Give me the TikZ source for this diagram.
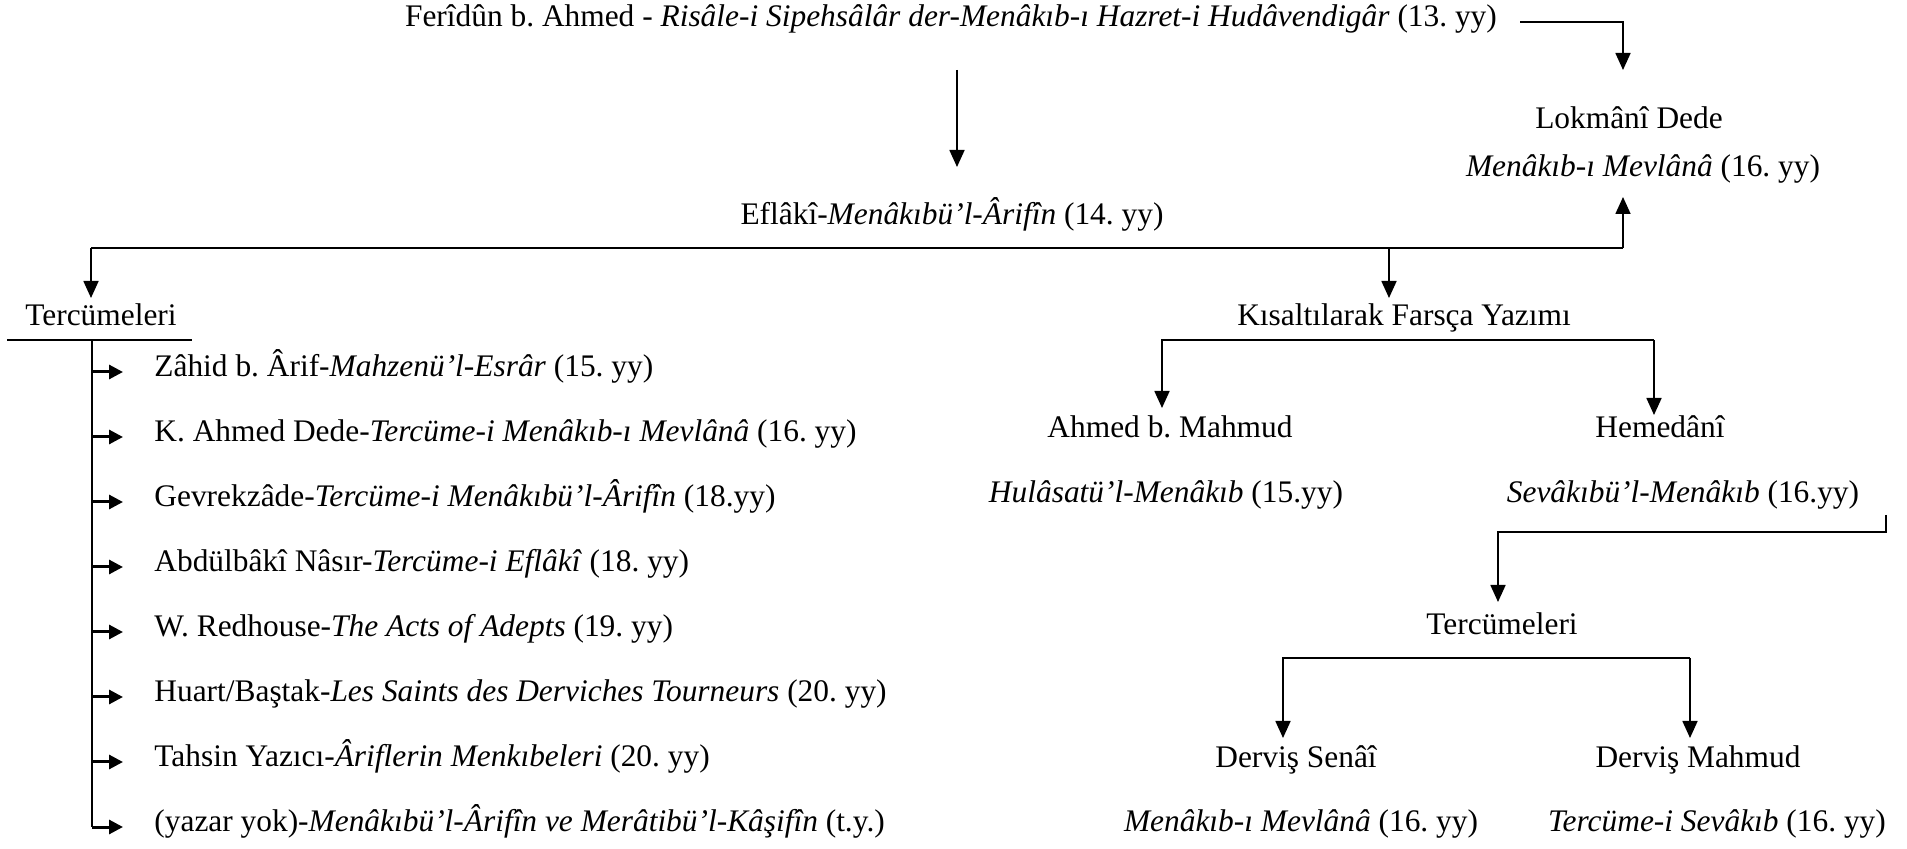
\documentclass[tikz,border=0pt]{standalone}
\usepackage{fontspec}
\setmainfont{Liberation Serif}
\usetikzlibrary{arrows.meta}
\frenchspacing
\begin{document}
\begin{tikzpicture}[x=0.5pt,y=-0.5pt,
  every node/.style={inner sep=0pt, font=\fontsize{15.7}{18}\selectfont, text height=0.7em, text depth=0.22em},
  conn/.style={line width=0.85pt},
  arr/.style={conn, -{Triangle[length=8.5pt,width=7.5pt]}},
  sarr/.style={line width=1.5pt, -{Triangle[length=7pt,width=7pt]}},
  item/.style={anchor=west}]
\useasboundingbox (0,0) rectangle (1907,849);

% nodes
\node (fer) at (951,22) {Ferîdûn b. Ahmed - \textit{Risâle-i Sipehsâlâr der-Menâkıb-ı Hazret-i Hudâvendigâr} (13. yy)};
\node (lok) at (1629,124) {Lokmânî Dede};
\node (lokw) at (1643,172) {\textit{Menâkıb-ı Mevlânâ} (16. yy)};
\node (efl) at (952,220) {Eflâkî-\textit{Menâkıbü’l-Ârifîn} (14. yy)};
\node (t1) at (101,321) {Tercümeleri};
\node[item] (z1) at (154,372) {Zâhid b. Ârif-\textit{Mahzenü’l-Esrâr} (15. yy)};
\node[item] (z2) at (154,437) {K. Ahmed Dede-\textit{Tercüme-i Menâkıb-ı Mevlânâ} (16. yy)};
\node[item] (z3) at (154,502) {Gevrekzâde-\textit{Tercüme-i Menâkıbü’l-Ârifîn} (18.yy)};
\node[item] (z4) at (154,567) {Abdülbâkî Nâsır-\textit{Tercüme-i Eflâkî} (18. yy)};
\node[item] (z5) at (154,632) {W. Redhouse-\textit{The Acts of Adepts} (19. yy)};
\node[item] (z6) at (154,697) {Huart/Baştak-\textit{Les Saints des Derviches Tourneurs} (20. yy)};
\node[item] (z7) at (154,762) {Tahsin Yazıcı-\textit{Âriflerin Menkıbeleri} (20. yy)};
\node[item] (z8) at (154,827) {(yazar yok)-\textit{Menâkıbü’l-Ârifîn ve Merâtibü’l-Kâşifîn} (t.y.)};
\node (kis) at (1404,321) {Kısaltılarak Farsça Yazımı};
\node (ahm) at (1170,433) {Ahmed b. Mahmud};
\node (hem) at (1660,433) {Hemedânî};
\node (hul) at (1166,498) {\textit{Hulâsatü’l-Menâkıb} (15.yy)};
\node (sev) at (1683,498) {\textit{Sevâkıbü’l-Menâkıb} (16.yy)};
\node (t2) at (1502,630) {Tercümeleri};
\node (ds) at (1296,763) {Derviş Senâî};
\node (dm) at (1698,763) {Derviş Mahmud};
\node (ms) at (1301,827) {\textit{Menâkıb-ı Mevlânâ} (16. yy)};
\node (ts) at (1717,827) {\textit{Tercüme-i Sevâkıb} (16. yy)};

% coordinates
\coordinate (f1) at (1520,22);
\coordinate (lokin) at (1623,70);
\coordinate (a1) at (957,70);
\coordinate (a2) at (957,167);
\coordinate (b0) at (91,248);
\coordinate (b1) at (1623,248);
\coordinate (bk) at (1389,248);
\coordinate (lokup) at (1623,197);
\coordinate (t1in) at (91,298);
\coordinate (kisin) at (1389,298);
\coordinate (u0) at (7,340);
\coordinate (u1) at (192,340);
\coordinate (vx) at (92,340);
\coordinate (vend) at (92,827);
\coordinate (kl) at (1162,340);
\coordinate (kr) at (1654,340);
\coordinate (ahmin) at (1162,408);
\coordinate (hemin) at (1654,415);
\coordinate (s0) at (1886,515);
\coordinate (s1) at (1886,532);
\coordinate (s2) at (1498,532);
\coordinate (t2in) at (1498,602);
\coordinate (dl) at (1283,658);
\coordinate (dr) at (1690,658);
\coordinate (dsin) at (1283,738);
\coordinate (dmin) at (1690,738);

% connectors
\draw[arr] (f1) -| (lokin);
\draw[arr] (a1) -- (a2);
\draw[conn] (b0) -- (b1);
\draw[arr] (b0) -- (t1in);
\draw[arr] (b1) -- (lokup);
\draw[arr] (bk) -- (kisin);
\draw[conn] (u0) -- (u1);
\draw[conn] (vx) -- (vend);
\foreach \n in {z1,z2,z3,z4,z5,z6,z7,z8}
  \draw[sarr] (vx |- \n.west) -- ([xshift=-15.5pt]\n.west);
\draw[arr] (kr) -- (kl) -- (ahmin);
\draw[arr] (kr) -- (hemin);
\draw[arr] (s0) -- (s1) -- (s2) -- (t2in);
\draw[arr] (dr) -- (dl) -- (dsin);
\draw[arr] (dr) -- (dmin);
\end{tikzpicture}
\end{document}
